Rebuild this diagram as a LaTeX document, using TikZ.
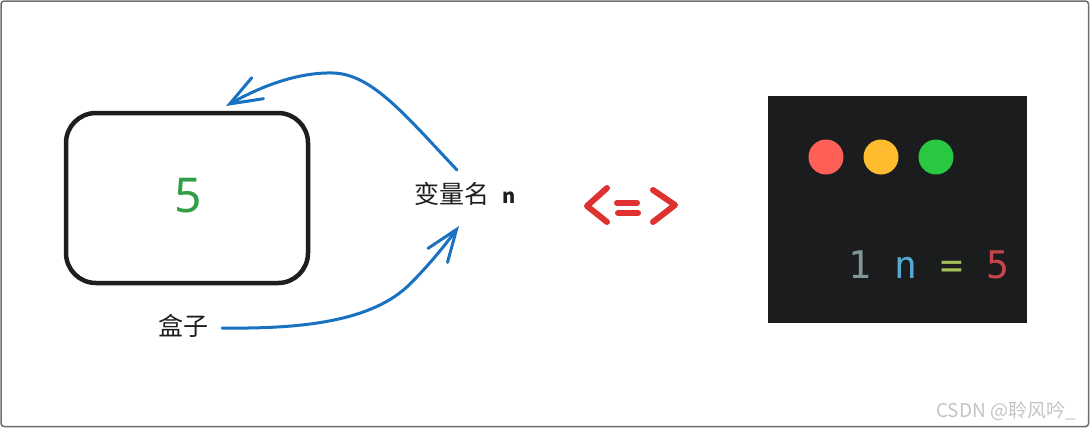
\documentclass[tikz,border=0pt]{standalone}
\usepackage{fontspec}
\setmainfont{Noto Sans}
\newfontfamily\cjk{Noto Sans CJK SC}
\newfontfamily\monofam{DejaVu Sans Mono}
\usetikzlibrary{arrows.meta}
\definecolor{inkblack}{HTML}{1E1E1E}
\definecolor{arrowblue}{HTML}{1971C2}
\definecolor{fivegreen}{HTML}{2F9E44}
\definecolor{eqred}{HTML}{E03131}
\definecolor{panel}{HTML}{1B1C1D}
\definecolor{dotred}{HTML}{FE5F57}
\definecolor{dotorange}{HTML}{FEBC2E}
\definecolor{dotgreen}{HTML}{28C840}
\definecolor{codegrey}{HTML}{829696}
\definecolor{codeblue}{HTML}{57A9D4}
\definecolor{codeeq}{HTML}{A6C15A}
\definecolor{codered}{HTML}{C8434C}
\definecolor{wmgrey}{HTML}{C4C4C4}
\definecolor{framegrey}{HTML}{6E6E6E}
\tikzset{
  boxshape/.style={draw=inkblack, line width=4.5pt, rounded corners=30pt, minimum width=242pt, minimum height=170pt, inner sep=0pt},
  label/.style={inner sep=0pt, font=\cjk\fontsize{25}{25}\selectfont, text=inkblack},
  handarrow/.style={draw=arrowblue, line width=3pt, line cap=round, line join=round,
    -{Straight Barb[length=32pt, width=24pt, line cap=round]}},
  eqstroke/.style={draw=eqred, line width=6pt, line cap=round, line join=round},
  trafficdot/.style={circle, minimum size=35pt, inner sep=0pt},
}
\begin{document}
\begin{tikzpicture}[x=1pt, y=-1pt]
\useasboundingbox (0,0) rectangle (1091,429);
\fill[white] (0,0) rectangle (1091,429);
\draw[framegrey, line width=1.5pt, rounded corners=3pt] (1,1) rectangle (1088.5,426.5);

% box with value
\node[boxshape] (box) at (187,198) {};
\node[anchor=base, inner sep=0pt, text=fivegreen, font=\bfseries\fontsize{48}{48}\selectfont] (five) at (188,212) {5};

% labels
\node[label, anchor=base west] (var) at (414,203) {变量名\hspace{13pt}{\bfseries\fontsize{20}{20}\selectfont n}};
\node[label, anchor=base west] (hezi) at (158,335) {盒子};

% arrows
\coordinate (a1s) at (457,170);
\coordinate (a1t) at (226,106);
\coordinate (a2s) at (222,328);
\coordinate (a2t) at (459,226);
\draw[handarrow] (a1s) .. controls (405,115) and (372,74) .. (333,73)
  .. controls (296,72) and (258,88) .. (a1t);
\draw[handarrow] (a2s) .. controls (300,329) and (372,322) .. (410,284)
  .. controls (430,264) and (446,244) .. (a2t);

% <=>
\coordinate (lt1) at (607,188); \coordinate (lv) at (587,206); \coordinate (lb1) at (607,222);
\coordinate (e1a) at (617,203); \coordinate (e1b) at (637,203);
\coordinate (e2a) at (618,213); \coordinate (e2b) at (638,213);
\coordinate (gt1) at (653,190); \coordinate (gv) at (675,205); \coordinate (gb1) at (653,222);
\draw[eqstroke] (lt1) -- (lv) -- (lb1);
\draw[eqstroke] (e1a) -- (e1b);
\draw[eqstroke] (e2a) -- (e2b);
\draw[eqstroke] (gt1) -- (gv) -- (gb1);

% code panel
\node[fill=panel, minimum width=259pt, minimum height=227pt, inner sep=0pt] (panel) at (897.5,209.5) {};
\node[trafficdot, fill=dotred] (d1) at (826,157) {};
\node[trafficdot, fill=dotorange] (d2) at (881,157) {};
\node[trafficdot, fill=dotgreen] (d3) at (936,157) {};
\node[anchor=base, inner sep=0pt, font=\monofam\fontsize{38}{38}\selectfont] (code) at (929,278)
  {\textcolor{codegrey}{1} \textcolor{codeblue}{n} \textcolor{codeeq}{=} \textcolor{codered}{5}};

% watermark
\node[anchor=base west, inner sep=0pt, text=wmgrey, font=\cjk\fontsize{19}{19}\selectfont] (wm) at (936,417) {CSDN @聆风吟\_};
\end{tikzpicture}
\end{document}
